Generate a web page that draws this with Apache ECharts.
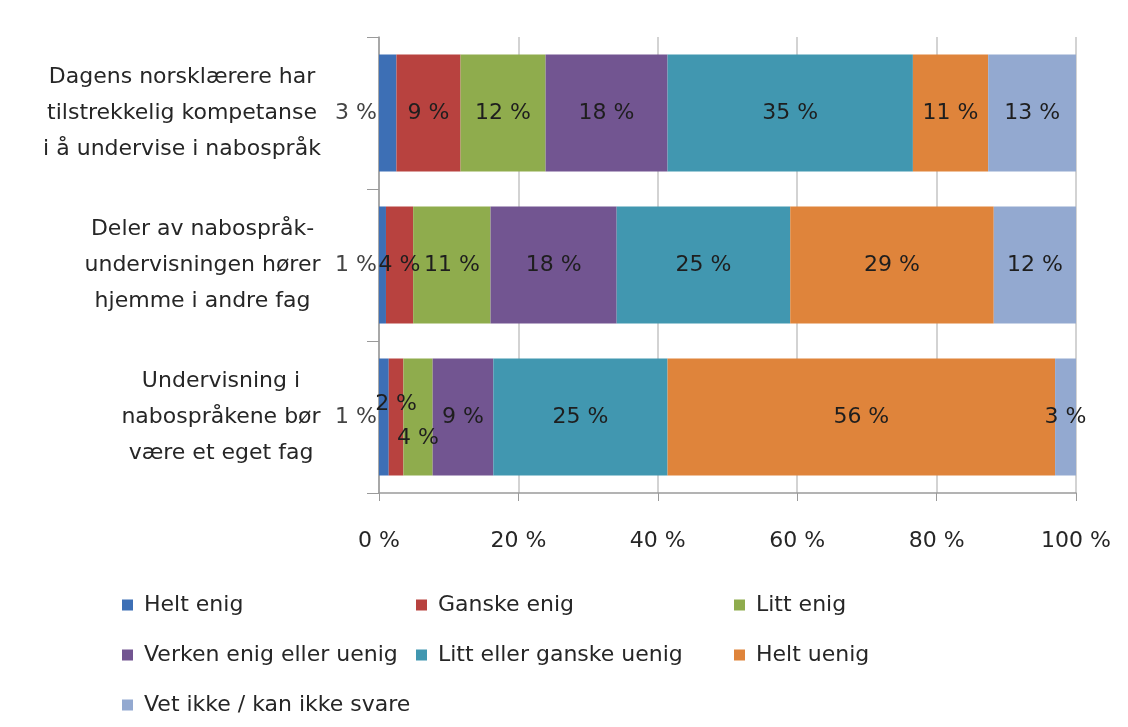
<!DOCTYPE html>
<html><head><meta charset="utf-8">
<script src="https://cdn.jsdelivr.net/npm/echarts@6/dist/echarts.min.js"></script>
<style>html,body{margin:0;padding:0;background:#fff}#c{width:1128px;height:727px}</style>
</head><body><div id="c"></div>
<script>
const categories = [
  'Dagens norsklærere har\ntilstrekkelig kompetanse\ni å undervise i nabospråk',
  'Deler av nabospråk-\nundervisningen hører\nhjemme i andre fag',
  'Undervisning i\nnabospråkene bør\nvære et eget fag'
];
const seriesNames = ['Helt enig', 'Ganske enig', 'Litt enig', 'Verken enig eller uenig',
  'Litt eller ganske uenig', 'Helt uenig', 'Vet ikke / kan ikke svare'];
const heltEnig   = [2.5, 1.0, 1.4];
const ganskeEnig = [9.2, 3.9, 2.1];
const littEnig   = [12.2, 11.1, 4.2];
const verken     = [17.5, 18.1, 8.7];
const littUenig  = [35.2, 24.9, 25.0];
const heltUenig  = [10.8, 29.2, 55.6];
const vetIkke    = [12.6, 11.8, 3.0];
const xTicks = [0, 20, 40, 60, 80, 100];

const allValues = [heltEnig, ganskeEnig, littEnig, verken, littUenig, heltUenig, vetIkke];
const colors = ['#3d6fb5', '#b8423f', '#8fac4d', '#725591', '#4197b0', '#df843b', '#93a9d0'];
const FONT = 'DejaVu Sans';
const FS = 22;
const txt = '#262626';

// category labels: block right-aligned to the axis, lines centred within the block
const ctx = document.createElement('canvas').getContext('2d');
ctx.font = FS + 'px "' + FONT + '"';
const rich = {};
categories.forEach((c, i) => {
  const w = Math.max(...c.split('\n').map(l => ctx.measureText(l).width));
  rich['c' + i] = {width: Math.ceil(w), align: 'center', fontFamily: FONT, fontSize: FS,
    lineHeight: 36, color: txt};
});

// per-item label tweaks (series index -> category index -> label override)
const labelTweaks = {
  1: {2: {offset: [0, -13]}},
  2: {2: {offset: [0, 21]}}
};

const series = allValues.map((vals, si) => ({
  name: seriesNames[si],
  type: 'bar',
  stack: 'total',
  barWidth: '77%',
  itemStyle: {color: colors[si]},
  label: {
    show: true,
    position: si === 0 ? 'left' : 'inside',
    distance: 2,
    formatter: p => Math.round(p.value) + ' %',
    fontFamily: FONT, fontSize: FS, color: si === 0 ? '#444' : '#1e1e1e'
  },
  data: vals.map((v, ci) => {
    const t = labelTweaks[si] && labelTweaks[si][ci];
    return t ? {value: v, label: t} : v;
  })
}));

const chart = echarts.init(document.getElementById('c'));
chart.setOption({
  animation: false,
  backgroundColor: '#fff',
  grid: {left: 379, right: 52, top: 37, bottom: 234, containLabel: false},
  xAxis: {
    type: 'value', min: 0, max: 100, interval: 20,
    axisLine: {show: true, lineStyle: {color: '#9a9a9a', width: 1.5}},
    axisTick: {show: true, length: 8, lineStyle: {color: '#9a9a9a'}},
    splitLine: {show: true, lineStyle: {color: '#c4c4c4', width: 1.5}},
    axisLabel: {
      margin: 37, fontFamily: FONT, fontSize: FS, color: txt,
      formatter: v => xTicks.includes(v) ? v + ' %' : ''
    }
  },
  yAxis: {
    type: 'category', inverse: true, data: categories,
    axisLine: {show: true, lineStyle: {color: '#9a9a9a', width: 1.5}},
    axisTick: {show: true, length: 12, lineStyle: {color: '#9a9a9a'}},
    axisLabel: {
      align: 'right', margin: 58, fontFamily: FONT, fontSize: FS,
      lineHeight: 36, color: txt, rich: rich,
      formatter: (value, index) => value.split('\n').map(l => '{c' + index + '|' + l + '}').join('\n')
    }
  },
  legend: [
    {data: [seriesNames[0], seriesNames[3], seriesNames[6]], left: 122},
    {data: [seriesNames[1], seriesNames[4]], left: 416},
    {data: [seriesNames[2], seriesNames[5]], left: 734}
  ].map(l => Object.assign({
    orient: 'vertical', top: 592, padding: 0, height: 140, itemWidth: 11, itemHeight: 11, itemGap: 24,
    icon: 'rect',
    textStyle: {fontFamily: FONT, fontSize: FS, lineHeight: 26, color: txt, padding: [0, 0, 0, 6]}
  }, l)),
  series: series
});
</script></body></html>
